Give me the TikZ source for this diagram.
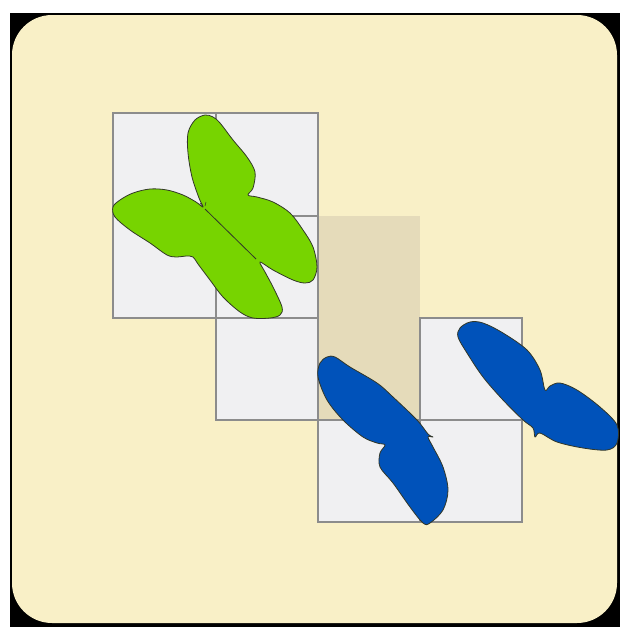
\documentclass[tikz,border=0pt]{standalone}
\begin{document}
\begin{tikzpicture}[x=1pt,y=-1pt,
  cell/.style={fill=cellgray,draw=linegray,line width=1.8pt},
  wing/.style={draw=outline,line width=0.8pt,line join=round},
  ]
\definecolor{cream}{RGB}{249,240,199}
\definecolor{cellgray}{RGB}{240,240,242}
\definecolor{linegray}{RGB}{140,140,140}
\definecolor{tanbox}{RGB}{229,219,186}
\definecolor{bgreen}{RGB}{119,212,0}
\definecolor{bblue}{RGB}{0,82,186}
\definecolor{outline}{RGB}{50,55,40}
\useasboundingbox (0,0) rectangle (620,627);
% frame
\fill[black] (10,13) rectangle (620,627);
\fill[cream,rounded corners=40pt] (12,15) rectangle (617,623);
% tan box
\fill[tanbox] (318,216) rectangle (420,420);
% cells
\draw[cell] (113,113) rectangle (216,216);
\draw[cell] (216,113) rectangle (318,216);
\draw[cell] (113,216) rectangle (216,318);
\draw[cell] (216,216) rectangle (318,318);
\draw[cell] (216,318) rectangle (318,420);
\draw[cell] (420,318) rectangle (522,420);
\draw[cell] (318,420) rectangle (420,522);
\draw[cell] (420,420) rectangle (522,522);
% green butterfly
\draw[wing,fill=bgreen] plot[smooth cycle,tension=0.55] coordinates {
 (203,207) (199,198) (192,177) (188,153) (188,133) (195,120) (205,115) (213,117)
 (220,123) (233,140) (247,157) (255,172) (253,188) (248,195)
 (257,197) (273,202) (290,213) (303,230) (313,247) (317,267) (313,280) (305,283)
 (293,280) (273,270) (260,262)
 (265,272) (273,287) (282,307) (280,315) (270,318) (253,318) (240,312) (223,297)
 (210,280) (198,264) (193,257)
 (186,256) (177,257) (167,255) (150,243) (130,230) (115,217) (113,207) (120,200)
 (133,193) (150,189) (167,190) (183,195) (196,202)};
\draw[outline,line width=0.8pt] (205,209) -- (256,259);
\draw[outline,line width=0.6pt] (203,207) -- (200,203) (205,206) -- (206,202);
% blue butterfly 1
\draw[wing,fill=bblue] plot[smooth cycle,tension=0.55] coordinates {
 (327,357) (320,363) (318,377) (327,400) (343,420) (363,437) (377,443) (385,445)
 (380,453) (380,467) (393,483) (410,507) (423,523) (430,523) (443,510) (448,490)
 (443,467) (433,447) (428,437) (433,437) (428,434)
 (417,420) (393,397) (377,383) (350,367) (335,357)};
% blue butterfly 2
\draw[wing,fill=bblue] plot[smooth cycle,tension=0.55] coordinates {
 (470,322) (460,328) (458,337) (467,353) (483,377) (503,400) (523,420) (533,428)
 (535,437) (540,433) (557,442) (583,448) (607,450) (617,443) (617,425)
 (600,407) (577,390) (560,383) (550,386) (545,390)
 (540,370) (527,350) (503,333) (483,323)};
\end{tikzpicture}
\end{document}
